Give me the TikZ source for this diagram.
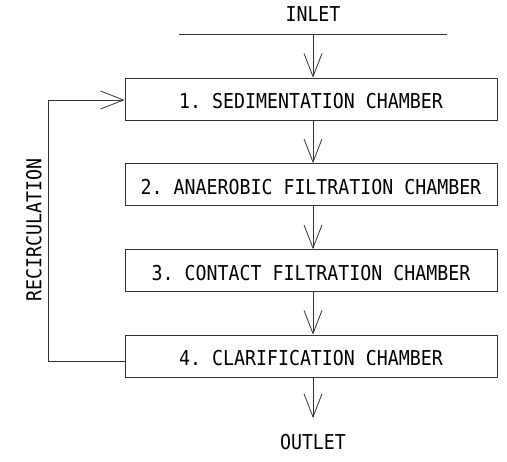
\documentclass[tikz,border=0pt]{standalone}
\usepackage{fontspec}
\setmonofont[FakeStretch=0.89]{DejaVu Sans Mono}
\usetikzlibrary{arrows.meta}
\begin{document}
\begin{tikzpicture}[x=1pt,y=-1pt,
  ln/.style={draw=black!80,line width=0.8pt},
  flow/.style={ln,-{Straight Barb[length=23pt,width=18pt,line width=0.8pt]}},
  chamber/.style={ln,fill=white,minimum width=372pt,minimum height=42pt,inner sep=0pt,text height=20pt,text depth=0pt,font=\ttfamily\fontsize{20.5}{22}\selectfont},
  lbl/.style={inner sep=0pt,font=\ttfamily\fontsize{20.5}{22}\selectfont}]
\useasboundingbox (0,0) rectangle (507,462);
\node[lbl] (inlet) at (313,14.5) {INLET};
\coordinate (la) at (179,34);
\coordinate (lb) at (447,34);
\coordinate (lm) at (313,34);
\draw[ln] (la) -- (lb);
\node[chamber] (c1) at (311,99) {1. SEDIMENTATION CHAMBER};
\node[chamber] (c2) at (311,184.5) {2. ANAEROBIC FILTRATION CHAMBER};
\node[chamber] (c3) at (311,270.5) {3. CONTACT FILTRATION CHAMBER};
\node[chamber] (c4) at (311,356) {4. CLARIFICATION CHAMBER};
\node[lbl] (outlet) at (313,442.5) {OUTLET};
\coordinate (o) at (313,418);
\coordinate (r1) at (48,361);
\coordinate (r2) at (48,100);
\node[lbl,rotate=90] (rec) at (34,230) {RECIRCULATION};
\draw[flow] (lm) -- (lm |- c1.north);
\draw[flow] (c1.south -| lm) -- (lm |- c2.north);
\draw[flow] (c2.south -| lm) -- (lm |- c3.north);
\draw[flow] (c3.south -| lm) -- (lm |- c4.north);
\draw[flow] (c4.south -| lm) -- (o);
\draw[flow] (c4.west |- r1) -- (r1) -- (r2) -- (c1.west |- r2);
\end{tikzpicture}
\end{document}
